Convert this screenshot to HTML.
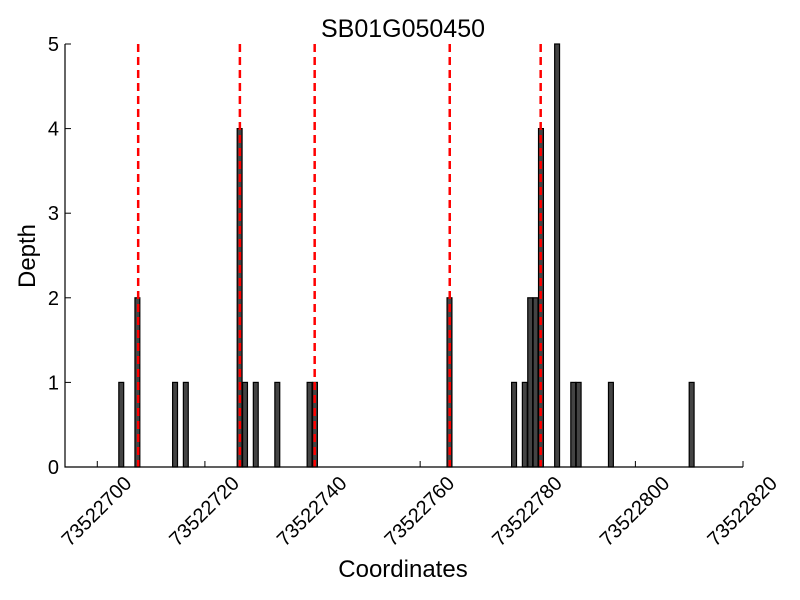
<!DOCTYPE html>
<html><head><meta charset="utf-8"><style>body{margin:0;background:#fff}svg{display:block}text{font-family:"Liberation Sans",sans-serif}</style></head>
<body>
<svg id="chart" width="800" height="600" viewBox="0 0 800 600">
<rect width="800" height="600" fill="#fff"/>
<text x="403" y="37" font-size="25" text-anchor="middle">SB01G050450</text>
<g id="bars"></g><g id="lines"></g><g id="axes"></g>
<text x="403" y="577" font-size="24" text-anchor="middle">Coordinates</text>
<text x="0" y="0" font-size="24" text-anchor="middle" transform="translate(35,256) rotate(-90)">Depth</text>
</svg>
<script>
const positions=[73522704,73522707,73522714,73522716,73522726,73522727,73522729,73522733,73522739,73522740,73522765,73522777,73522779,73522780,73522781,73522782,73522785,73522788,73522789,73522795,73522810];
const depths=[1,2,1,1,4,1,1,1,1,1,2,1,1,2,2,4,5,1,1,1,1];
const markers=[73522707.6,73522726.5,73522740.4,73522765.5,73522782.4];
const xTicks=[73522700,73522720,73522740,73522760,73522780,73522800,73522820];
const yTicks=[0,1,2,3,4,5];
const X0=65,X1=743,Y0=467,Y1=44,xmin=73522694,xmax=73522820,ymax=5;
const sx=v=>X0+(v-xmin)/(xmax-xmin)*(X1-X0);
const sy=v=>Y0-v/ymax*(Y0-Y1);
const NS='http://www.w3.org/2000/svg';
function mk(t,a,p){const e=document.createElementNS(NS,t);for(const k in a)e.setAttribute(k,a[k]);p.appendChild(e);return e;}
const bars=document.getElementById('bars'),lines=document.getElementById('lines'),axes=document.getElementById('axes');
positions.forEach((p,i)=>{
 const x=sx(p),w=sx(p+1)-x-0.5,y=sy(depths[i]);
 const r=mk('rect',{x:x,y:y,width:w,height:Y0-y,fill:'#444',stroke:'#000','stroke-width':1.2},bars);
 
 
});
markers.forEach(m=>{
 const l=mk('line',{x1:sx(m),x2:sx(m),y1:Y1,y2:Y0,stroke:'#f00','stroke-width':2.5,'stroke-dasharray':'8,5'},lines);
 
 
});
const ax=mk('path',{d:`M${X0},${Y1}V${Y0}H${X1}`,fill:'none',stroke:'#000','stroke-width':1.2},axes);


yTicks.forEach(v=>{
 mk('line',{x1:X0,x2:X0+6,y1:sy(v),y2:sy(v),stroke:'#000'},axes);
 const t=mk('text',{x:X0-6,y:sy(v)+7,'font-size':20,'text-anchor':'end'},axes);
 t.textContent=v;
 
 
});
xTicks.forEach(v=>{
 const x=sx(v);
 mk('line',{x1:x,x2:x,y1:Y0,y2:Y0-6,stroke:'#000'},axes);
 const t=mk('text',{x:0,y:7,'font-size':20,'text-anchor':'middle',transform:`translate(${x-1},${511}) rotate(-45)`},axes);
 t.textContent=v;
 
 
});
</script>
</body></html>
